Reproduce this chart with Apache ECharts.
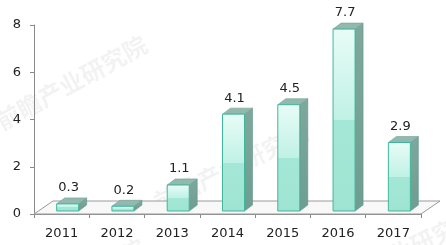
<!DOCTYPE html>
<html>
<head>
<meta charset="utf-8">
<script src="https://cdn.jsdelivr.net/npm/echarts@6/dist/echarts.min.js"></script>
<style>html,body{margin:0;padding:0;background:#fff;}#c{width:446px;height:245px;}</style>
</head>
<body>
<div id="c"></div>
<script>
var categories = ['2011', '2012', '2013', '2014', '2015', '2016', '2017'];
var values = [0.3, 0.2, 1.1, 4.1, 4.5, 7.7, 2.9];
var yTicks = [0, 2, 4, 6, 8];

var chart = echarts.init(document.getElementById('c'));
var FONT = 'DejaVu Sans';

function barItem(params, api) {
  var i = api.value(0), v = api.value(1);
  var base = api.coord([i, 0]);
  var top = api.coord([i, v]);
  var w = 22, dx = 8, dy = 6, off = 3;
  var x0 = base[0] - 5, x1 = x0 + w;
  var yb = base[1] - off, yt = top[1] - off;
  var frontGrad = new echarts.graphic.LinearGradient(0, 0, 0, 1, [
    {offset: 0, color: '#e8fcf7'},
    {offset: 0.5, color: '#c0f1e5'},
    {offset: 0.5, color: '#a4e7d6'},
    {offset: 1, color: '#9fe4d2'}
  ]);
  return {
    type: 'group',
    children: [
      {type: 'polygon', shape: {points: [[x1, yt], [x1 + dx, yt - dy], [x1 + dx, yb - dy], [x1, yb]]},
        style: {fill: new echarts.graphic.LinearGradient(0, 0, 0, 1, [{offset: 0, color: '#7fa89c'}, {offset: 1, color: '#6f9d91'}]), stroke: '#5f9488', lineWidth: 0.6}},
      {type: 'polygon', shape: {points: [[x0, yt], [x0 + dx, yt - dy], [x1 + dx, yt - dy], [x1, yt]]},
        style: {fill: '#93b8ad', stroke: '#6fa295', lineWidth: 0.6}},
      {type: 'rect', shape: {x: x0, y: yt, width: w, height: yb - yt},
        style: {fill: frontGrad, stroke: '#3fb79c', lineWidth: 1}},
      {type: 'text', style: {text: String(v), x: x0 + w / 2 + 1, y: yt - 16, align: 'center', verticalAlign: 'middle',
        fill: '#222', font: '13px "' + FONT + '"'}}
    ]
  };
}

function floorItem(params, api) {
  var first = api.coord([0, 0]);
  var last = api.coord([categories.length - 1, 0]);
  var bw = api.size([1, 0])[0];
  var l = first[0] - bw / 2, r = last[0] + bw / 2, y = first[1];
  var fx = 19, fy = 13;
  return {
    type: 'group',
    children: [
      {type: 'polygon', shape: {points: [[l, y], [l + fx, y - fy], [r + fx, y - fy], [r, y]]},
        style: {fill: '#f8f8f8', stroke: '#9a9a9a', lineWidth: 1}}
    ]
  };
}

var wm = [
  {x: -8, y: 32, r: 0.5},
  {x: 150, y: 120, r: 0.45},
  {x: -10, y: 235, r: 0.5},
  {x: 320, y: 205, r: 0.45}
];

chart.setOption({
  animation: false,
  backgroundColor: '#fff',
  graphic: wm.map(function (p) {
    return {type: 'text', left: p.x, top: p.y, rotation: p.r, z: 0,
      style: {text: '前瞻产业研究院', fill: 'rgba(0,0,0,0.05)', font: 'bold 24px "Noto Sans CJK SC"'}};
  }),
  grid: {left: 34, right: 25, top: 25, bottom: 31},
  xAxis: {
    type: 'category', data: categories, boundaryGap: true,
    axisLine: {show: true, lineStyle: {color: '#8a8a8a'}},
    axisTick: {show: true, length: 4, lineStyle: {color: '#8a8a8a'}},
    axisLabel: {color: '#222', fontFamily: FONT, fontSize: 13, margin: 13}
  },
  yAxis: {
    type: 'value', min: 0, max: 8, interval: 2,
    axisLine: {show: true, lineStyle: {color: '#8a8a8a'}},
    axisTick: {show: true, length: 4, lineStyle: {color: '#8a8a8a'}},
    splitLine: {show: false},
    axisLabel: {color: '#222', fontFamily: FONT, fontSize: 13, margin: 13,
      formatter: function (v) { return yTicks.indexOf(v) >= 0 ? String(v) : ''; }}
  },
  series: [
    {type: 'custom', renderItem: floorItem, data: [[0]], z: 1, silent: true},
    {type: 'custom', renderItem: barItem, z: 3,
      data: values.map(function (v, i) { return [i, v]; }),
      encode: {x: 0, y: 1}}
  ]
});
</script>
</body>
</html>
